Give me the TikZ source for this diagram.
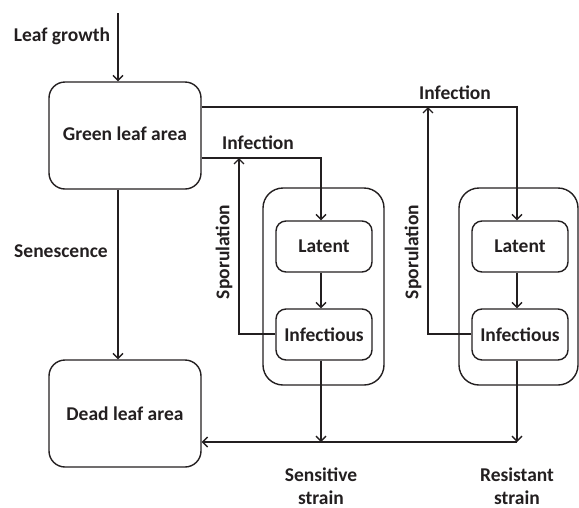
\documentclass[tikz,border=0pt]{standalone}
\usepackage{fontspec}
\setmainfont{Carlito}
\usetikzlibrary{arrows.meta}
\definecolor{ink}{HTML}{231F20}
\begin{document}
\begin{tikzpicture}[x=1pt,y=-1pt,
  every node/.style={font=\bfseries\fontsize{19.5}{23}\selectfont, text=ink},
  bigbox/.style={draw=ink, line width=1.4pt, rounded corners=16pt, minimum width=152pt, minimum height=107pt, inner sep=0pt},
  outerbox/.style={draw=ink, line width=1.4pt, rounded corners=20pt, minimum height=197pt, inner sep=0pt},
  smallbox/.style={draw=ink, line width=1.4pt, rounded corners=10pt, minimum width=96pt, minimum height=51pt, inner sep=0pt},
  lbl/.style={inner sep=0pt, align=center},
  conn/.style={draw=ink, line width=1.4pt},
  arr/.style={conn, -{Straight Barb[length=5pt,width=10pt,line width=1.4pt]}}]
\useasboundingbox (0,0) rectangle (579,507);
% main boxes
\node[bigbox] (green) at (125,135.5) {\raisebox{3pt}{Green leaf area}};
\node[bigbox] (dead) at (125,413.5) {Dead leaf area};
% strain boxes
\node[outerbox, minimum width=121pt] (outS) at (323.5,286.5) {};
\node[outerbox, minimum width=119pt] (outR) at (518.5,286.5) {};
\node[smallbox] (latS) at (324,246.5) {Latent};
\node[smallbox] (infS) at (324,334.5) {Infectious};
\node[smallbox] (latR) at (520,246.5) {Latent};
\node[smallbox] (infR) at (520,334.5) {Infectious};
% coordinates
\coordinate (top) at (118,13);
\coordinate (sx) at (321,0);
\coordinate (rx) at (517,0);
\coordinate (infyS) at (0,158);
\coordinate (infyR) at (0,107);
\coordinate (spS) at (239,334);
\coordinate (spR) at (428,334);
\coordinate (by) at (0,442);
% labels
\node[lbl] (lg) at (62,36) {Leaf growth};
\node[lbl] (sen) at (61,251) {Senescence};
\node[lbl] (i1) at (258,143) {Infection};
\node[lbl] (i2) at (455,93) {Infection};
\node[lbl, rotate=90] (s1) at (224,252) {Sporulation};
\node[lbl, rotate=90] (s2) at (413,252) {Sporulation};
\node[lbl] (sst) at (321,486) {Sensitive\\strain};
\node[lbl] (rst) at (517,486) {Resistant\\strain};
% connectors
\draw[arr] (top) -- (top |- green.north);
\draw[arr] (green.south -| top) -- (dead.north -| top);
\draw[arr] (green.east |- infyS) -- (sx |- infyS) -- (sx |- latS.north);
\draw[arr] (green.east |- infyR) -- (rx |- infyR) -- (rx |- latR.north);
\draw[arr] (infS.west |- spS) -- (spS) -- (spS |- infyS);
\draw[arr] (infR.west |- spR) -- (spR) -- (spR |- infyR);
\draw[arr] (sx |- latS.south) -- (sx |- infS.north);
\draw[arr] (rx |- latR.south) -- (rx |- infR.north);
\draw[arr] (sx |- infS.south) -- (sx |- by);
\draw[arr] (rx |- infR.south) -- (rx |- by);
\draw[arr] (rx |- by) -- (dead.east |- by);
\end{tikzpicture}
\end{document}
